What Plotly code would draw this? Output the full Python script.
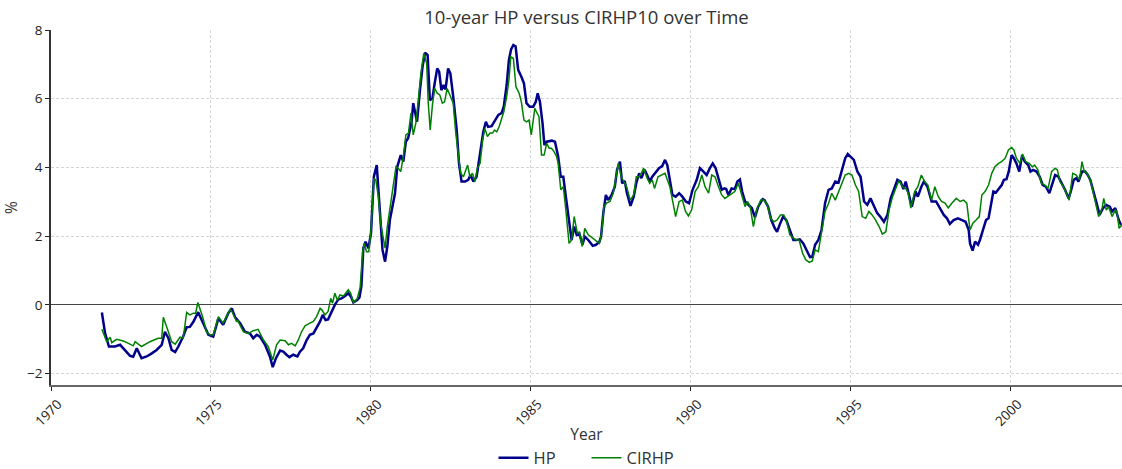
import plotly.graph_objects as go

# ---- data (decimal years, percent) ----
hp_years = [1971.59,1971.69,1971.81,1972.00,1972.16,1972.26,1972.47,1972.57,1972.68,1972.83,1972.99,1973.15,1973.30,1973.46,1973.56,1973.67,1973.77,1973.88,1973.98,1974.13,1974.24,1974.34,1974.45,1974.60,1974.76,1974.92,1975.07,1975.23,1975.38,1975.54,1975.65,1975.75,1975.91,1976.06,1976.22,1976.32,1976.43,1976.53,1976.69,1976.84,1976.93,1977.03,1977.16,1977.26,1977.36,1977.45,1977.57,1977.70,1977.78,1977.88,1977.99,1978.09,1978.20,1978.30,1978.41,1978.49,1978.58,1978.66,1978.77,1978.87,1978.98,1979.08,1979.19,1979.29,1979.37,1979.45,1979.57,1979.64,1979.70,1979.76,1979.83,1979.92,1980.00,1980.09,1980.18,1980.23,1980.30,1980.36,1980.44,1980.51,1980.59,1980.68,1980.75,1980.82,1980.93,1981.01,1981.09,1981.16,1981.27,1981.32,1981.38,1981.44,1981.53,1981.61,1981.69,1981.77,1981.84,1981.92,1981.99,1982.07,1982.13,1982.20,1982.27,1982.33,1982.41,1982.48,1982.57,1982.68,1982.75,1982.83,1982.94,1983.04,1983.11,1983.20,1983.30,1983.35,1983.42,1983.51,1983.59,1983.66,1983.77,1983.88,1983.98,1984.08,1984.15,1984.24,1984.31,1984.38,1984.45,1984.52,1984.60,1984.70,1984.78,1984.86,1984.96,1985.07,1985.15,1985.21,1985.28,1985.36,1985.42,1985.49,1985.65,1985.75,1985.85,1985.93,1986.01,1986.09,1986.20,1986.27,1986.35,1986.43,1986.51,1986.61,1986.68,1986.79,1986.93,1987.03,1987.14,1987.19,1987.26,1987.34,1987.41,1987.52,1987.62,1987.69,1987.78,1987.85,1987.93,1988.00,1988.11,1988.21,1988.29,1988.38,1988.45,1988.55,1988.63,1988.71,1988.79,1988.90,1989.00,1989.10,1989.19,1989.26,1989.34,1989.42,1989.52,1989.63,1989.73,1989.84,1989.94,1990.05,1990.18,1990.28,1990.39,1990.49,1990.59,1990.68,1990.77,1990.86,1990.96,1991.04,1991.10,1991.17,1991.27,1991.37,1991.45,1991.53,1991.60,1991.69,1991.80,1991.90,1992.00,1992.10,1992.24,1992.30,1992.41,1992.51,1992.62,1992.69,1992.77,1992.88,1992.98,1993.09,1993.20,1993.30,1993.40,1993.51,1993.61,1993.72,1993.79,1993.88,1993.98,1994.08,1994.19,1994.30,1994.40,1994.51,1994.61,1994.72,1994.82,1994.90,1995.00,1995.09,1995.20,1995.30,1995.41,1995.51,1995.61,1995.72,1995.82,1995.93,1996.03,1996.14,1996.24,1996.34,1996.45,1996.55,1996.64,1996.71,1996.78,1996.90,1997.02,1997.09,1997.20,1997.28,1997.39,1997.52,1997.66,1997.76,1997.90,1998.00,1998.09,1998.21,1998.34,1998.47,1998.58,1998.68,1998.72,1998.80,1998.88,1998.97,1999.03,1999.14,1999.22,1999.30,1999.36,1999.45,1999.53,1999.64,1999.71,1999.78,1999.86,1999.93,2000.02,2000.09,2000.17,2000.26,2000.35,2000.43,2000.54,2000.61,2000.69,2000.80,2000.90,2000.99,2001.09,2001.20,2001.27,2001.38,2001.48,2001.59,2001.69,2001.80,2001.87,2001.96,2002.04,2002.11,2002.22,2002.32,2002.40,2002.48,2002.58,2002.69,2002.77,2002.88,2002.98,2003.09,2003.16,2003.26,2003.37,2003.44]
hp_values = [-0.22,-0.82,-1.21,-1.21,-1.16,-1.26,-1.48,-1.51,-1.26,-1.55,-1.50,-1.41,-1.31,-1.16,-0.78,-0.97,-1.31,-1.37,-1.21,-0.92,-0.65,-0.64,-0.49,-0.21,-0.53,-0.87,-0.92,-0.39,-0.58,-0.24,-0.10,-0.35,-0.53,-0.78,-0.83,-0.97,-0.87,-0.92,-1.16,-1.50,-1.81,-1.55,-1.33,-1.36,-1.45,-1.52,-1.45,-1.50,-1.36,-1.26,-1.02,-0.87,-0.83,-0.68,-0.48,-0.29,-0.44,-0.42,-0.19,0.00,0.16,0.19,0.26,0.34,0.25,0.07,0.14,0.22,0.55,1.65,1.84,1.65,2.08,3.73,4.07,3.35,2.28,1.60,1.26,1.70,2.47,2.86,3.25,4.02,4.36,4.17,4.75,4.85,5.33,5.87,5.62,5.33,6.25,6.93,7.34,7.27,5.96,6.01,6.45,6.88,6.79,6.25,6.40,6.27,6.88,6.74,6.06,5.09,4.12,3.59,3.59,3.64,3.78,3.59,3.73,4.07,4.51,5.04,5.33,5.18,5.20,5.38,5.53,5.58,5.77,6.40,7.13,7.44,7.56,7.52,6.84,6.64,6.45,5.87,5.77,5.77,5.91,6.16,5.91,5.30,4.65,4.75,4.78,4.75,4.31,3.73,3.73,3.15,2.28,1.89,2.28,2.04,2.08,1.75,1.99,1.89,1.72,1.75,1.84,1.99,2.67,3.20,3.05,3.20,3.44,3.93,4.17,3.54,3.61,3.25,2.88,3.15,3.54,3.83,3.69,3.93,3.78,3.59,3.73,3.88,3.98,4.04,4.22,4.07,3.64,3.20,3.15,3.25,3.15,3.01,2.96,3.35,3.64,3.98,3.88,3.78,3.98,4.12,3.98,3.64,3.35,3.39,3.37,3.20,3.39,3.37,3.59,3.65,3.30,3.01,2.91,2.82,2.55,2.86,3.08,3.05,2.86,2.47,2.23,2.13,2.33,2.57,2.47,2.18,1.89,1.89,1.91,1.79,1.60,1.39,1.40,1.75,1.89,2.18,2.96,3.35,3.39,3.59,3.56,3.98,4.27,4.39,4.31,4.22,3.88,3.73,3.01,2.91,3.10,2.86,2.67,2.55,2.42,2.62,3.10,3.35,3.64,3.59,3.37,3.59,3.30,2.86,3.30,3.15,3.44,3.59,3.44,3.01,3.01,2.86,2.62,2.52,2.36,2.47,2.52,2.47,2.42,2.18,1.79,1.58,1.84,1.75,1.89,2.23,2.47,2.52,2.86,3.30,3.27,3.39,3.49,3.64,3.66,3.88,4.36,4.27,4.12,3.88,4.36,4.17,4.07,3.88,3.93,3.88,3.73,3.49,3.44,3.25,3.44,3.78,3.73,3.54,3.35,3.10,3.30,3.64,3.69,3.59,3.88,3.88,3.78,3.64,3.25,2.91,2.62,2.82,2.91,2.86,2.72,2.82,2.47,2.33]

cirhp_years = [1971.59,1971.74,1971.85,1971.90,1972.05,1972.26,1972.42,1972.57,1972.63,1972.83,1973.09,1973.35,1973.46,1973.51,1973.63,1973.77,1973.88,1974.03,1974.13,1974.24,1974.34,1974.45,1974.52,1974.59,1974.74,1974.86,1974.97,1975.07,1975.23,1975.38,1975.60,1975.66,1975.80,1975.83,1976.01,1976.17,1976.32,1976.47,1976.64,1976.79,1976.93,1977.05,1977.16,1977.32,1977.42,1977.52,1977.63,1977.73,1977.83,1977.94,1978.09,1978.20,1978.30,1978.41,1978.47,1978.56,1978.66,1978.74,1978.80,1978.87,1978.95,1979.03,1979.14,1979.24,1979.29,1979.36,1979.45,1979.57,1979.66,1979.74,1979.79,1979.86,1979.93,1980.00,1980.09,1980.15,1980.23,1980.30,1980.39,1980.44,1980.51,1980.59,1980.70,1980.78,1980.86,1980.93,1981.01,1981.09,1981.17,1981.25,1981.32,1981.40,1981.48,1981.56,1981.65,1981.74,1981.79,1981.85,1981.92,1981.99,1982.07,1982.15,1982.23,1982.30,1982.38,1982.46,1982.57,1982.65,1982.73,1982.80,1982.89,1982.97,1983.02,1983.09,1983.17,1983.25,1983.32,1983.41,1983.49,1983.56,1983.64,1983.72,1983.80,1983.86,1983.93,1984.01,1984.08,1984.15,1984.24,1984.31,1984.37,1984.45,1984.53,1984.63,1984.70,1984.78,1984.86,1984.94,1985.01,1985.07,1985.12,1985.17,1985.25,1985.33,1985.41,1985.49,1985.57,1985.64,1985.72,1985.80,1985.85,1985.93,1986.01,1986.09,1986.19,1986.27,1986.35,1986.45,1986.51,1986.60,1986.68,1986.79,1986.93,1987.03,1987.14,1987.21,1987.28,1987.36,1987.47,1987.57,1987.65,1987.73,1987.82,1987.89,1987.99,1988.10,1988.21,1988.29,1988.38,1988.45,1988.52,1988.63,1988.71,1988.79,1988.86,1988.97,1989.07,1989.19,1989.26,1989.34,1989.44,1989.52,1989.63,1989.73,1989.83,1989.92,1990.02,1990.13,1990.23,1990.34,1990.44,1990.55,1990.65,1990.75,1990.86,1990.96,1991.06,1991.21,1991.37,1991.48,1991.58,1991.69,1991.77,1991.85,1991.95,1992.05,1992.18,1992.28,1992.39,1992.49,1992.59,1992.69,1992.80,1992.90,1992.98,1993.09,1993.20,1993.30,1993.38,1993.49,1993.59,1993.70,1993.79,1993.88,1993.98,1994.08,1994.19,1994.30,1994.40,1994.51,1994.61,1994.72,1994.82,1994.93,1995.03,1995.14,1995.24,1995.35,1995.46,1995.56,1995.66,1995.77,1995.88,1995.98,1996.09,1996.19,1996.30,1996.40,1996.50,1996.61,1996.71,1996.79,1996.87,1996.99,1997.09,1997.20,1997.30,1997.40,1997.52,1997.62,1997.73,1997.83,1997.94,1998.04,1998.15,1998.29,1998.41,1998.52,1998.62,1998.72,1998.81,1998.91,1999.01,1999.09,1999.19,1999.30,1999.40,1999.50,1999.61,1999.71,1999.82,1999.92,2000.02,2000.09,2000.17,2000.28,2000.36,2000.46,2000.57,2000.67,2000.74,2000.84,2000.95,2001.06,2001.16,2001.27,2001.38,2001.45,2001.53,2001.64,2001.74,2001.82,2001.93,2002.04,2002.14,2002.22,2002.29,2002.38,2002.48,2002.58,2002.69,2002.74,2002.85,2002.90,2002.98,2003.05,2003.16,2003.26,2003.31,2003.38,2003.47]
cirhp_values = [-0.71,-1.07,-0.94,-1.10,-1.00,-1.05,-1.12,-1.19,-1.07,-1.21,-1.07,-0.97,-0.97,-0.36,-0.68,-1.07,-1.14,-0.94,-0.97,-0.22,-0.29,-0.24,-0.24,0.07,-0.35,-0.78,-0.87,-0.87,-0.34,-0.53,-0.13,-0.20,-0.49,-0.44,-0.78,-0.83,-0.75,-0.71,-1.02,-1.21,-1.60,-1.16,-1.02,-1.04,-1.16,-1.12,-1.19,-1.02,-0.78,-0.61,-0.53,-0.48,-0.34,-0.10,-0.15,-0.29,-0.19,0.19,0.05,0.34,0.14,0.29,0.26,0.39,0.44,0.35,0.07,0.18,0.50,1.55,1.80,1.55,1.55,2.18,3.68,3.64,3.15,2.38,1.89,1.65,2.28,2.76,3.44,4.02,3.97,3.88,4.32,4.95,5.00,5.58,4.95,5.28,5.96,6.74,7.32,7.03,5.87,5.09,5.82,6.30,6.16,6.11,5.87,5.91,6.30,6.11,5.87,5.00,4.41,3.83,3.73,3.97,4.07,3.73,3.83,3.59,3.97,4.12,4.80,5.13,4.90,5.00,5.00,5.09,5.04,5.20,5.43,5.62,6.06,6.54,7.22,7.17,6.35,6.16,5.91,5.38,5.33,5.38,4.95,5.43,5.72,5.62,5.48,4.36,4.36,4.70,4.56,4.56,4.46,4.32,4.12,3.35,3.44,2.76,1.79,1.89,2.57,2.08,2.13,1.70,2.23,2.04,1.94,1.89,1.79,2.13,2.86,2.96,3.01,3.25,3.64,4.12,3.73,3.59,3.44,3.05,3.20,3.73,3.73,3.83,3.98,3.69,3.54,3.64,3.39,3.73,3.78,3.83,3.64,3.44,2.96,2.57,3.01,3.05,2.72,2.59,2.76,3.30,3.44,3.78,3.44,3.25,3.78,3.73,3.44,3.20,3.10,3.20,3.30,3.54,3.20,2.86,3.01,2.86,2.28,2.76,3.05,3.05,2.91,2.52,2.42,2.47,2.62,2.62,2.47,2.04,1.94,1.89,1.89,1.50,1.31,1.24,1.28,1.60,1.55,2.08,2.72,2.96,3.25,3.05,3.30,3.59,3.78,3.83,3.78,3.49,3.30,2.57,2.52,2.72,2.62,2.47,2.28,2.06,2.13,2.76,3.15,3.39,3.62,3.44,3.39,3.25,2.82,3.30,3.44,3.78,3.59,3.49,3.05,3.44,3.15,3.01,2.96,2.82,2.96,3.10,3.01,3.05,2.96,2.18,2.38,2.47,2.57,3.20,3.30,3.49,3.83,4.02,4.12,4.17,4.27,4.51,4.58,4.51,4.27,4.12,4.39,4.17,4.12,4.02,4.07,3.93,3.54,3.49,3.39,3.88,3.98,3.93,3.59,3.44,3.25,3.05,3.83,3.78,3.64,4.17,3.88,3.83,3.64,3.20,2.72,2.57,2.82,3.10,2.76,2.86,2.57,2.76,2.72,2.23,2.33]

x_ticks = [1970, 1975, 1980, 1985, 1990, 1995, 2000]
y_ticks = [-2, 0, 2, 4, 6, 8]

FONT = "Open Sans"
TXT = "#333333"

fig = go.Figure()
fig.add_trace(go.Scatter(x=hp_years, y=hp_values, mode="lines", name="HP",
                         line=dict(color="#00008B", width=2.5)))
fig.add_trace(go.Scatter(x=cirhp_years, y=cirhp_values, mode="lines", name="CIRHP",
                         line=dict(color="#008000", width=1.5)))

fig.update_layout(
    width=1122, height=469,
    margin=dict(l=51, r=0, t=30, b=84, autoexpand=False),
    paper_bgcolor="white", plot_bgcolor="white",
    font=dict(family=FONT, color=TXT, size=12),
    title=dict(text="10-year HP versus CIRHP10 over Time", x=0.5, xref="paper",
               y=0.963, yref="container", xanchor="center", yanchor="middle",
               font=dict(size=18.5, color=TXT)),
    legend=dict(orientation="h", x=0.5, xref="paper", xanchor="center",
                y=-0.206, yref="paper", yanchor="middle", entrywidth=48,
                font=dict(size=16.5, color=TXT), bgcolor="rgba(0,0,0,0)"),
    showlegend=True,
)
fig.update_xaxes(
    range=[1970, 2003.47], tickvals=x_ticks, ticktext=[str(t) for t in x_ticks],
    tickangle=-45, ticks="outside", ticklen=4, tickcolor="#222", automargin=True,
    ticklabelshift=7,
    showline=True, linecolor="#666", linewidth=2,
    showgrid=True, gridcolor="#d4d4d4", griddash="3px,2px", gridwidth=0.8,
    zeroline=False, tickfont=dict(size=13.5, color="#222"),
    title=dict(text="Year", font=dict(size=15.5, color=TXT), standoff=0),
)
fig.update_yaxes(
    range=[-2.33, 8], tickvals=y_ticks, ticktext=[str(t) if t >= 0 else "\u2212" + str(-t) for t in y_ticks],
    ticks="outside", ticklen=4, tickcolor="#222", automargin=True,
    showline=True, linecolor="#333", linewidth=1.5,
    showgrid=True, gridcolor="#d4d4d4", griddash="3px,2px", gridwidth=0.8,
    zeroline=True, zerolinecolor="#444", zerolinewidth=1.3,
    tickfont=dict(size=13.5, color="#222"),
    title=dict(text="%", font=dict(size=15.5, color=TXT), standoff=14),
)

fig.write_html("out.html", config={"displayModeBar": False},
               post_script="document.body.style.margin='0';document.body.style.overflow='hidden';")
